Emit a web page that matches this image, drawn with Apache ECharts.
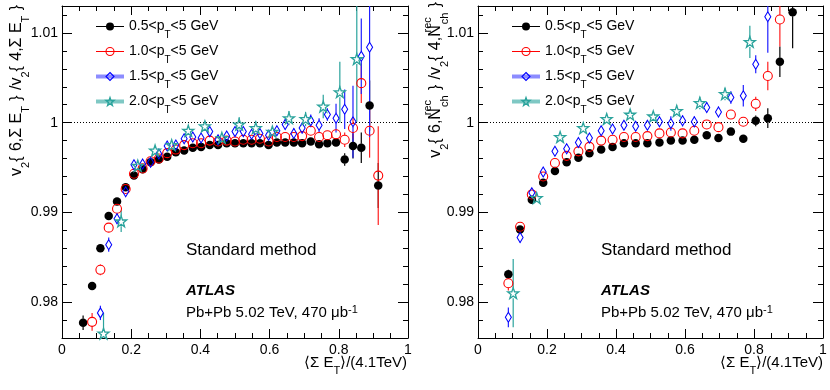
<!DOCTYPE html>
<html><head><meta charset="utf-8">
<script src="https://cdn.jsdelivr.net/npm/echarts@6/dist/echarts.min.js"></script>
<style>html,body{margin:0;padding:0;background:#fff}#c{width:830px;height:390px}</style>
</head><body><div id="c"></div>
<script>
// ---------- data ----------
const seriesNames = ['0.5<p_T<5 GeV', '1.0<p_T<5 GeV', '1.5<p_T<5 GeV', '2.0<p_T<5 GeV'];
const xTickLabels = ['0', '0.2', '0.4', '0.6', '0.8', '1'];
const yTickLabels = ['0.98', '0.99', '1', '1.01'];

// Left panel: v2{6,ΣET}/v2{4,ΣET}
const L_x_black = [0.061,0.087,0.111,0.135,0.159,0.184,0.208,0.233,0.256,0.280,0.304,0.329,0.353,0.378,0.402,0.427,0.451,0.476,0.500,0.524,0.548,0.572,0.597,0.621,0.645,0.670,0.694,0.719,0.743,0.767,0.792,0.817,0.841,0.865,0.889,0.914];
const L_y_black = [0.9777,0.9818,0.9860,0.9896,0.9912,0.9928,0.9941,0.9948,0.9956,0.9959,0.9962,0.9967,0.9969,0.9972,0.9973,0.9975,0.9975,0.9977,0.9977,0.9977,0.9977,0.9977,0.9975,0.9978,0.9978,0.9978,0.9977,0.9979,0.9976,0.9977,0.9978,0.9959,0.9974,0.9972,1.0019,0.9930];
const L_e_black = [0.0008,0.0004,0.0003,0.0003,0.0002,0.0002,0.0002,0.0002,0.0002,0.0002,0.0002,0.0002,0.0002,0.0002,0.0002,0.0002,0.0002,0.0002,0.0002,0.0002,0.0002,0.0002,0.0002,0.0002,0.0002,0.0003,0.0003,0.0003,0.0003,0.0003,0.0004,0.0007,0.0014,0.0017,0.0028,0.0025];

const L_x_red = [0.087,0.111,0.135,0.159,0.184,0.208,0.233,0.256,0.280,0.304,0.329,0.353,0.378,0.402,0.427,0.451,0.476,0.500,0.524,0.548,0.572,0.597,0.621,0.645,0.670,0.694,0.719,0.743,0.767,0.792,0.817,0.841,0.865,0.889,0.914];
const L_y_red = [0.9778,0.9836,0.9883,0.9904,0.9926,0.9943,0.9949,0.9957,0.9960,0.9966,0.9970,0.9975,0.9977,0.9977,0.9980,0.9979,0.9980,0.9979,0.9981,0.9981,0.9982,0.9979,0.9984,0.9984,0.9984,0.9985,0.9991,0.9984,0.9986,0.9987,0.9981,0.9994,1.0044,0.9991,0.9941];
const L_e_red = [0.0010,0.0006,0.0005,0.0004,0.0003,0.0003,0.0003,0.0003,0.0003,0.0003,0.0003,0.0003,0.0003,0.0003,0.0003,0.0003,0.0003,0.0003,0.0003,0.0003,0.0003,0.0003,0.0003,0.0004,0.0004,0.0004,0.0005,0.0004,0.0005,0.0005,0.0008,0.0012,0.0022,0.0030,0.0055];

const L_x_blue = [0.111,0.135,0.159,0.184,0.208,0.233,0.256,0.280,0.304,0.329,0.353,0.378,0.402,0.427,0.451,0.476,0.500,0.524,0.548,0.572,0.597,0.621,0.645,0.670,0.694,0.719,0.743,0.767,0.792,0.817,0.841,0.865,0.889];
const L_y_blue = [0.9788,0.9864,0.9893,0.9923,0.9953,0.9954,0.9956,0.9965,0.9974,0.9975,0.9982,0.9984,0.9983,0.9990,0.9981,0.9985,0.9990,0.9990,0.9987,0.9988,0.9986,0.9991,0.9998,0.9988,0.9994,1.0002,0.9997,1.0009,1.0005,1.0015,1.0001,1.0074,1.0084];
const L_e_blue = [0.0008,0.0008,0.0006,0.0004,0.0004,0.0004,0.0004,0.0004,0.0004,0.0004,0.0004,0.0004,0.0004,0.0005,0.0004,0.0005,0.0005,0.0005,0.0005,0.0005,0.0005,0.0005,0.0006,0.0006,0.0006,0.0007,0.0008,0.0007,0.0016,0.0022,0.0040,0.0042,0.0100];

const L_x_teal = [0.120,0.171,0.219,0.269,0.317,0.365,0.413,0.462,0.512,0.560,0.608,0.656,0.704,0.755,0.803,0.852];
const L_y_teal = [0.9765,0.9890,0.9952,0.9969,0.9975,0.9991,0.9996,0.9983,0.9998,0.9994,0.9990,1.0005,1.0004,1.0018,1.0034,1.0071];
const L_e_teal = [0.0023,0.0012,0.0006,0.0004,0.0004,0.0004,0.0004,0.0005,0.0008,0.0008,0.0006,0.0008,0.0008,0.0013,0.0034,0.0070];

// Right panel: v2{6,Nch}/v2{4,Nch}
const R_x_black = [0.088,0.122,0.156,0.189,0.223,0.257,0.291,0.323,0.357,0.390,0.423,0.457,0.491,0.526,0.559,0.593,0.627,0.663,0.697,0.733,0.769,0.805,0.840,0.875,0.912];
const R_y_black = [0.9831,0.9881,0.9914,0.9933,0.9946,0.9956,0.9961,0.9966,0.9970,0.9973,0.9977,0.9977,0.9977,0.9978,0.9980,0.9980,0.9981,0.9986,0.9983,0.9990,0.9982,1.0002,1.0005,1.0068,1.0123];
const R_e_black = [0.0005,0.0004,0.0003,0.0003,0.0002,0.0002,0.0002,0.0002,0.0002,0.0002,0.0002,0.0002,0.0002,0.0002,0.0002,0.0002,0.0002,0.0003,0.0003,0.0003,0.0003,0.0006,0.0011,0.0017,0.0040];

const R_x_red = [0.088,0.122,0.156,0.189,0.223,0.257,0.291,0.323,0.357,0.390,0.423,0.457,0.491,0.526,0.559,0.593,0.627,0.663,0.697,0.733,0.769,0.805,0.840,0.875];
const R_y_red = [0.9821,0.9884,0.9920,0.9940,0.9955,0.9963,0.9968,0.9973,0.9980,0.9981,0.9984,0.9984,0.9985,0.9988,0.9989,0.9988,0.9991,0.9998,0.9995,1.0009,1.0001,1.0021,1.0052,1.0115];
const R_e_red = [0.0008,0.0005,0.0004,0.0004,0.0003,0.0003,0.0003,0.0003,0.0003,0.0003,0.0003,0.0003,0.0003,0.0003,0.0004,0.0004,0.0004,0.0005,0.0005,0.0005,0.0005,0.0008,0.0016,0.0030];

const R_x_blue = [0.088,0.122,0.156,0.189,0.223,0.257,0.291,0.323,0.357,0.390,0.423,0.457,0.491,0.526,0.559,0.593,0.627,0.663,0.697,0.733,0.769,0.805,0.840];
const R_y_blue = [0.9783,0.9872,0.9922,0.9945,0.9968,0.9971,0.9978,0.9983,0.9991,0.9993,0.9997,0.9996,0.9997,1.0001,0.9999,1.0002,1.0001,1.0017,1.0012,1.0028,1.0030,1.0065,1.0118];
const R_e_blue = [0.0011,0.0006,0.0004,0.0004,0.0004,0.0004,0.0004,0.0004,0.0005,0.0005,0.0005,0.0005,0.0005,0.0006,0.0008,0.0006,0.0006,0.0006,0.0006,0.0007,0.0012,0.0010,0.0040];

const R_x_teal = [0.102,0.170,0.238,0.305,0.373,0.441,0.508,0.576,0.643,0.716,0.788];
const R_y_teal = [0.9810,0.9916,0.9984,0.9994,1.0004,1.0009,1.0007,1.0013,1.0022,1.0032,1.0090];
const R_e_teal = [0.0038,0.0005,0.0004,0.0004,0.0004,0.0005,0.0005,0.0006,0.0007,0.0007,0.0018];

// ---------- styling ----------
const FF = '"Liberation Sans", Arial, Helvetica, sans-serif';
const STAR = 'path://M50,2 L61.5,36 L97,36 L68.5,57.5 L79,92 L50,71 L21,92 L31.5,57.5 L3,36 L38.5,36 Z';
const styles = [
  {color:'#000000', err:'#000000', symbol:'circle', size:8.5, fill:'#000000', bw:0, r:4, lw:1, lo:1},
  {color:'#ff0000', err:'#ff2020', symbol:'circle', size:9, fill:'rgba(0,0,0,0)', bw:1.1, r:4.5, lw:1, lo:1},
  {color:'#0000ff', err:'#2020ff', symbol:'diamond', size:[6,10], fill:'rgba(0,0,0,0)', bw:1.1, r:5, lw:4, lo:0.45},
  {color:'#2aa39c', err:'#2aa39c', symbol:STAR, size:11, fill:'rgba(0,0,0,0)', bw:1.3, r:5, lw:4, lo:0.6}
];

function zip(xs, ys){ return xs.map((x,i)=>[x, ys[i]]); }
function zip3(xs, ys, es){ return xs.map((x,i)=>[x, ys[i], es[i]]); }

function markerSeries(k, xs, ys, g, withLine){
  const s = styles[k];
  const ser = {
    type:'line', name: seriesNames[k], xAxisIndex: g*2, yAxisIndex: g*2,
    data: zip(xs, ys), symbol: s.symbol, symbolSize: s.size, showAllSymbol: true,
    lineStyle:{color: s.color, opacity:0, width:0}, itemStyle:{color: s.fill, borderColor: s.color, borderWidth: s.bw},
    z: 10 + k, animation:false, silent:true, clip:true
  };
  if (withLine) {
    ser.markLine = {silent:true, symbol:'none', animation:false, label:{show:false},
      lineStyle:{type:[1,2], color:'#000', width:1}, data:[{yAxis:1}]};
  }
  return ser;
}
function errSeries(k, xs, ys, es, g){
  const s = styles[k];
  return {
    type:'custom', name:'err'+g+k, xAxisIndex:g*2, yAxisIndex:g*2, z: 5 + k, clip:true, silent:true, animation:false,
    data: zip3(xs, ys, es), encode:{x:0, y:1},
    renderItem(params, api){
      const x = api.value(0), y = api.value(1), e = api.value(2);
      const c = api.coord([x,y]), t = api.coord([x,y+e]), b = api.coord([x,y-e]);
      const ch = [];
      if (c[1]-t[1] > s.r) ch.push({type:'line', shape:{x1:c[0],y1:t[1],x2:c[0],y2:c[1]-s.r}, style:{stroke:s.err, lineWidth:1.2}});
      if (b[1]-c[1] > s.r) ch.push({type:'line', shape:{x1:c[0],y1:c[1]+s.r,x2:c[0],y2:b[1]}, style:{stroke:s.err, lineWidth:1.2}});
      return {type:'group', children: ch};
    }
  };
}

const grids = [
  {left:62, top:6, width:346, height:332},
  {left:478, top:6, width:345, height:332}
];
const xAxes = [], yAxes = [];
function fmtX(v){ const i = Math.round(v/0.2); return Math.abs(v - i*0.2) < 1e-6 ? xTickLabels[i] : ''; }
function fmtY(v){ const i = Math.round((v-0.98)/0.01); return (i>=0 && i<yTickLabels.length && Math.abs(v-(0.98+i*0.01))<1e-7) ? yTickLabels[i] : ''; }
for (let g=0; g<2; g++){
  for (const pos of ['bottom','top']){
    xAxes.push({gridIndex:g, type:'value', min:0, max:1, interval:0.2, position:pos,
      axisLine:{show:true, onZero:false, lineStyle:{color:'#000', width:1}},
      axisTick:{show:true, inside:true, length:9, lineStyle:{color:'#000', width:1}},
      minorTick:{show:true, splitNumber:4, length:5, lineStyle:{color:'#000', width:1}},
      splitLine:{show:false}, minorSplitLine:{show:false},
      axisLabel:{show: pos==='bottom', margin:5, fontSize:14, fontFamily:FF, color:'#000', formatter: fmtX,
        showMinLabel:true, showMaxLabel:true}
    });
  }
  for (const pos of ['left','right']){
    yAxes.push({gridIndex:g, type:'value', min:0.976, max:1.013, splitNumber:4, minInterval:0.01, maxInterval:0.01, position:pos,
      axisLine:{show:true, onZero:false, lineStyle:{color:'#000', width:1}},
      axisTick:{show:true, inside:true, length:10, lineStyle:{color:'#000', width:1}},
      minorTick:{show:true, splitNumber:5, length:5, lineStyle:{color:'#000', width:1}},
      splitLine:{show:false}, minorSplitLine:{show:false},
      axisLabel:{show: pos==='left', margin:4, fontSize:14, fontFamily:FF, color:'#000', formatter: fmtY,
        showMinLabel:false, showMaxLabel:false}
    });
  }
}

const panels = [
  [[L_x_black,L_y_black,L_e_black],[L_x_red,L_y_red,L_e_red],[L_x_blue,L_y_blue,L_e_blue],[L_x_teal,L_y_teal,L_e_teal]],
  [[R_x_black,R_y_black,R_e_black],[R_x_red,R_y_red,R_e_red],[R_x_blue,R_y_blue,R_e_blue],[R_x_teal,R_y_teal,R_e_teal]]
];
const series = [];
for (let g=0; g<2; g++) for (let k=0; k<4; k++){
  const [xs, ys] = panels[g][k];
  series.push(markerSeries(k, xs, ys, g, k===0));
}
for (let g=0; g<2; g++) for (let k=0; k<4; k++){
  const [xs, ys, es] = panels[g][k];
  series.push(errSeries(k, xs, ys, es, g));
}

function richSet(fs, L){
  const sf = Math.round(fs*0.7);
  return {
    s:{fontSize:sf, fontFamily:FF, color:'#000', lineHeight:L, verticalAlign:'bottom'},
    u:{fontSize:sf, fontFamily:FF, color:'#000', lineHeight:L, verticalAlign:'top'},
    u0:{fontSize:sf, fontFamily:FF, color:'#000', lineHeight:L, verticalAlign:'top', width:1, align:'left'}
  };
}
const legendRich = richSet(14, 27);
function legendFmt(name){ return name.replace('p_T', 'p{s|T}'); }
function makeLegend(left){
  return {
    show:true, orient:'vertical', left:left, top:8, itemWidth:28, itemHeight:10, itemGap:-2,
    selectedMode:false,
    data: seriesNames.map((n,k)=>({name:n,
      lineStyle:{color: styles[k].color, width: styles[k].lw, opacity: styles[k].lo},
      itemStyle:{color: styles[k].fill, borderColor: styles[k].color, borderWidth: styles[k].bw}})),
    lineStyle:{width:1, opacity:1},
    formatter: legendFmt,
    textStyle:{fontSize:14, fontFamily:FF, color:'#000', lineHeight:18, rich: legendRich}
  };
}

function txt(x, y, text, fs, opts){
  return {type:'text', x:x, y:y, silent:true, z:100,
    style:Object.assign({text:text, fontSize:fs, fontFamily:FF, fill:'#000', align:'left', verticalAlign:'middle'}, opts||{})};
}
const graphics = [];
for (const [gx, ax] of [[186, 407], [601, 823]]){
  graphics.push(txt(gx, 250.5, 'Standard method', 17));
  graphics.push(txt(gx, 291, 'ATLAS', 15, {fontWeight:'bold', fontStyle:'italic'}));
  graphics.push(txt(gx, 313, 'Pb+Pb 5.02 TeV, 470 μb{u|-1}', 15, {lineHeight:17, rich: richSet(15, 17)}));
  graphics.push(txt(ax, 363, '⟨Σ E{s|T}⟩/(4.1TeV)', 15, {align:'right', lineHeight:18, rich: richSet(15, 27)}));
}
const TS = '\u2004';
graphics.push({type:'text', x:17, y:5, rotation:Math.PI/2, silent:true, z:100,
  style:{text:'v{s|2}{'+TS+'6,Σ E{s|T}'+TS+'}'+TS+'/v{s|2}{'+TS+'4,Σ E{s|T}'+TS+'}', fontSize:16, fontFamily:FF, fill:'#000', align:'right', verticalAlign:'middle', lineHeight:18, rich: richSet(16, 28)}});
graphics.push({type:'text', x:436, y:2, rotation:Math.PI/2, silent:true, z:100,
  style:{text:'v{s|2}{'+TS+'6,N{u0|rec}{s|ch}'+TS+'}'+TS+'/v{s|2}{'+TS+'4,N{u0|rec}{s|ch}'+TS+'}', fontSize:16, fontFamily:FF, fill:'#000', align:'right', verticalAlign:'middle', lineHeight:18, rich: richSet(16, 28)}});

const chart = echarts.init(document.getElementById('c'), null, {renderer:'canvas', devicePixelRatio:1});
chart.setOption({
  animation:false,
  backgroundColor:'#ffffff',
  grid: grids,
  xAxis: xAxes,
  yAxis: yAxes,
  legend: [makeLegend(89), makeLegend(505)],
  series: series,
  graphic: graphics
});
</script></body></html>
